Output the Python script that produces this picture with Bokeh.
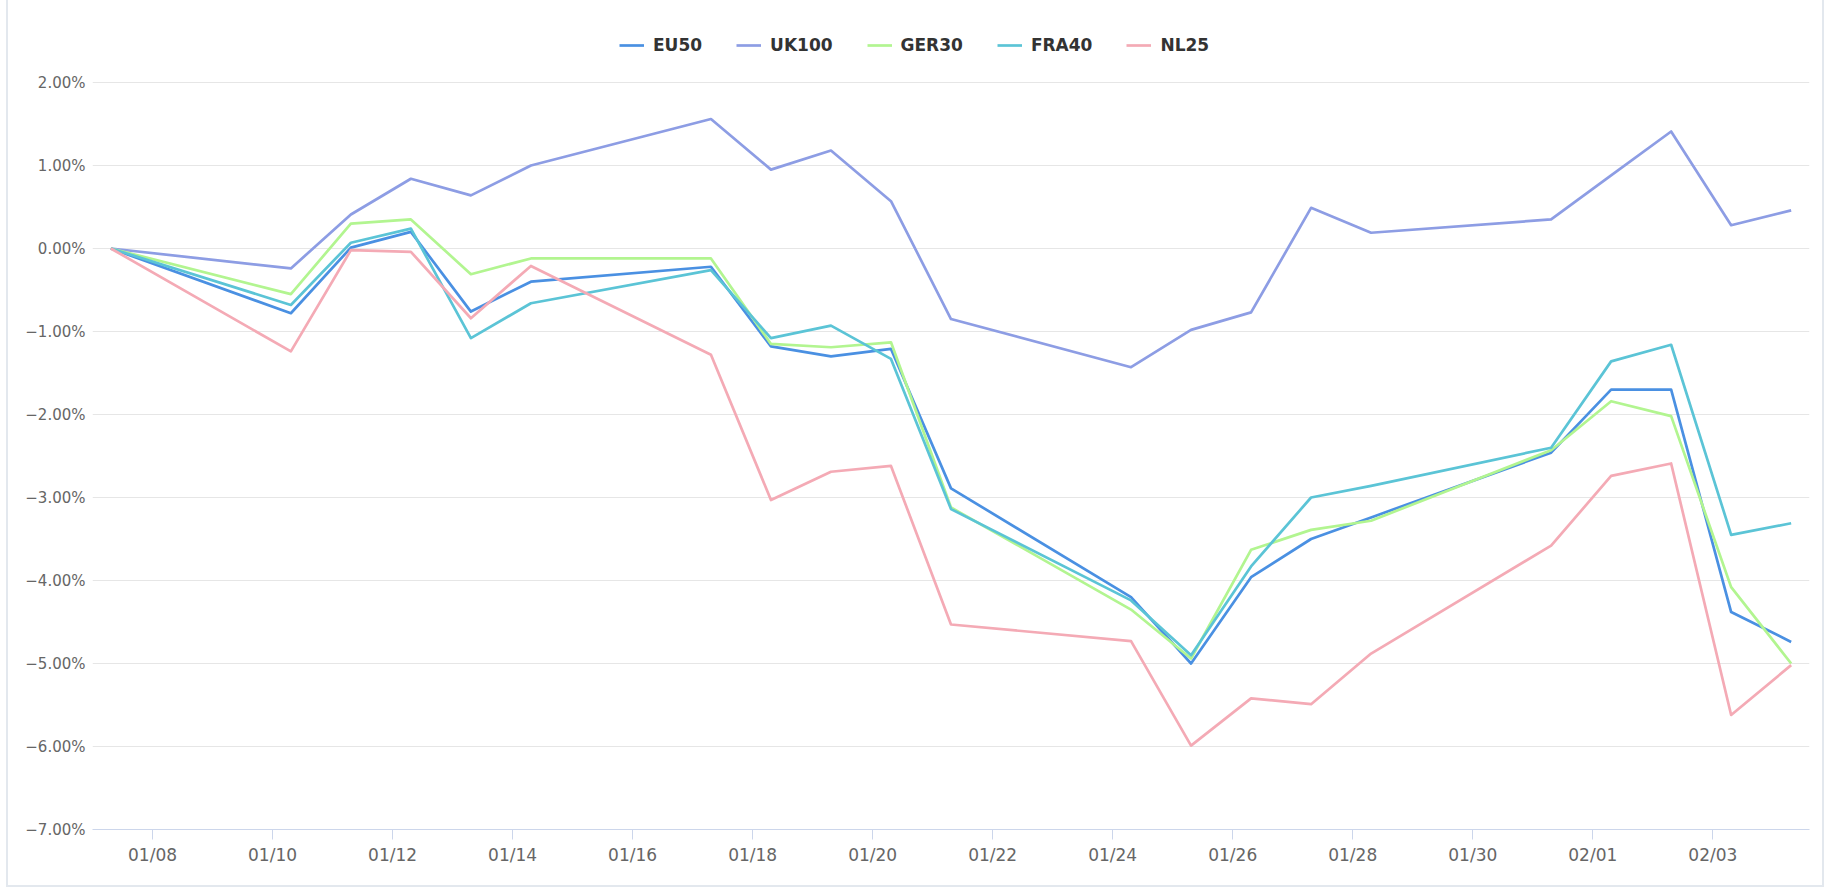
import pandas as pd
from bokeh.plotting import figure
from bokeh.models import (Range1d, FixedTicker, DatetimeTickFormatter, CustomJSTickFormatter,
                          Legend, LegendItem, ColumnDataSource)
from bokeh.embed import file_html
from bokeh.resources import INLINE

# ---- data (percent change) ----
dates = ["2025-01-07 07:20", "2025-01-10 07:20", "2025-01-11 07:20", "2025-01-12 07:20",
         "2025-01-13 07:20", "2025-01-14 07:20", "2025-01-17 07:20", "2025-01-18 07:20",
         "2025-01-19 07:20", "2025-01-20 07:20", "2025-01-21 07:20", "2025-01-24 07:20",
         "2025-01-25 07:20", "2025-01-26 07:20", "2025-01-27 07:20", "2025-01-28 07:20",
         "2025-01-31 07:20", "2025-02-01 07:20", "2025-02-02 07:20", "2025-02-03 07:20",
         "2025-02-04 07:20"]
eu50 = [0.00, -0.78, 0.01, 0.20, -0.76, -0.40, -0.22, -1.18, -1.30, -1.21, -2.89,
        -4.20, -5.00, -3.96, -3.50, -3.24, -2.46, -1.70, -1.70, -4.38, -4.74]
uk100 = [0.00, -0.24, 0.41, 0.84, 0.64, 1.00, 1.56, 0.95, 1.18, 0.57, -0.85,
         -1.43, -0.98, -0.77, 0.49, 0.19, 0.35, 0.88, 1.41, 0.28, 0.46]
ger30 = [0.00, -0.55, 0.30, 0.35, -0.31, -0.12, -0.12, -1.15, -1.19, -1.13, -3.12,
         -4.35, -4.94, -3.63, -3.39, -3.28, -2.43, -1.84, -2.02, -4.08, -5.00]
fra40 = [0.00, -0.68, 0.07, 0.24, -1.08, -0.66, -0.26, -1.08, -0.93, -1.33, -3.14,
         -4.24, -4.90, -3.83, -3.00, -2.86, -2.40, -1.36, -1.16, -3.45, -3.31]
nl25 = [0.00, -1.24, -0.02, -0.04, -0.84, -0.21, -1.28, -3.03, -2.69, -2.62, -4.53,
        -4.73, -5.99, -5.42, -5.49, -4.88, -3.58, -2.74, -2.59, -5.62, -5.02]

series_names = ["EU50", "UK100", "GER30", "FRA40", "NL25"]
series_colors = ["#4a90e2", "#8d9de4", "#b2f590", "#5bc4d6", "#f4aab5"]

x_tick_labels = ["01/08", "01/10", "01/12", "01/14", "01/16", "01/18", "01/20",
                 "01/22", "01/24", "01/26", "01/28", "01/30", "02/01", "02/03"]
y_ticks = [-7, -6, -5, -4, -3, -2, -1, 0, 1, 2]
x_start = "2025-01-07 00:00"
x_end = "2025-02-04 14:40"

# ---- build ----
src = ColumnDataSource(dict(date=pd.to_datetime(dates), EU50=eu50, UK100=uk100,
                            GER30=ger30, FRA40=fra40, NL25=nl25))

tick_ms = [int(pd.Timestamp("2025/" + t).value // 10**6) for t in x_tick_labels]

# frame extends to the canvas top so the legend (drawn in the frame) is not clipped;
# the visible value scale (-7% .. 2%) keeps 83 px per 1 %
frame_h = 829
px_per_unit = 83.0
y_top = y_ticks[0] + frame_h / px_per_unit

p = figure(x_axis_type="datetime", output_backend="svg", toolbar_location=None,
           width=1818, height=887,
           min_border_left=84, min_border_right=17, min_border_top=0, min_border_bottom=58,
           x_range=Range1d(pd.Timestamp(x_start), pd.Timestamp(x_end)),
           y_range=Range1d(y_ticks[0], y_top))
p.styles = {"margin-left": "6px", "border-left": "2px solid #e3e8ee",
            "border-right": "2px solid #e3e8ee", "border-bottom": "2px solid #e3e8ee"}
p.outline_line_color = None
p.background_fill_color = "white"
p.border_fill_color = "white"

renderers = []
for name, col in zip(series_names, series_colors):
    r = p.line(x="date", y=name, source=src, line_color=col, line_width=2.7,
               line_join="round")
    renderers.append(r)

# x axis
p.xaxis.ticker = FixedTicker(ticks=tick_ms)
p.xaxis.formatter = DatetimeTickFormatter(days="%m/%d", months="%m/%d", hours="%m/%d")
p.xaxis.axis_line_color = "#ccd6eb"
p.xaxis.major_tick_line_color = "#ccd6eb"
p.xaxis.major_tick_out = 10
p.xaxis.major_tick_in = 0
p.xaxis.minor_tick_line_color = None
p.xaxis.major_label_text_font = "DejaVu Sans"
p.xaxis.major_label_text_font_size = "17px"
p.xaxis.major_label_text_color = "#666666"
p.xaxis.major_label_standoff = 5
p.xgrid.grid_line_color = None

# y axis
p.yaxis.ticker = FixedTicker(ticks=y_ticks)
p.yaxis.formatter = CustomJSTickFormatter(
    code="return (tick < 0 ? '\\u2212' : '') + Math.abs(tick).toFixed(2) + '%';")
p.yaxis.axis_line_color = None
p.yaxis.major_tick_line_color = None
p.yaxis.minor_tick_line_color = None
p.yaxis.major_tick_out = 0
p.yaxis.major_tick_in = 0
p.yaxis.major_label_standoff = 7
p.yaxis.major_label_text_font = "DejaVu Sans"
p.yaxis.major_label_text_font_size = "15px"
p.yaxis.major_label_text_color = "#666666"
p.ygrid.ticker = FixedTicker(ticks=y_ticks)
p.ygrid.grid_line_color = "#e6e6e6"
p.ygrid.grid_line_width = 1

legend = Legend(items=[LegendItem(label=n, renderers=[r]) for n, r in zip(series_names, renderers)],
                orientation="horizontal", location=(527, 774),
                label_text_font="DejaVu Sans", label_text_font_style="bold",
                label_text_font_size="17px", label_text_color="#333333",
                glyph_width=25, glyph_height=20, label_standoff=9, spacing=34,
                padding=10, margin=0, border_line_color=None, background_fill_alpha=0)
p.add_layout(legend, "center")

with open("out.html", "w", encoding="utf-8") as f:
    f.write(file_html(p, INLINE))
